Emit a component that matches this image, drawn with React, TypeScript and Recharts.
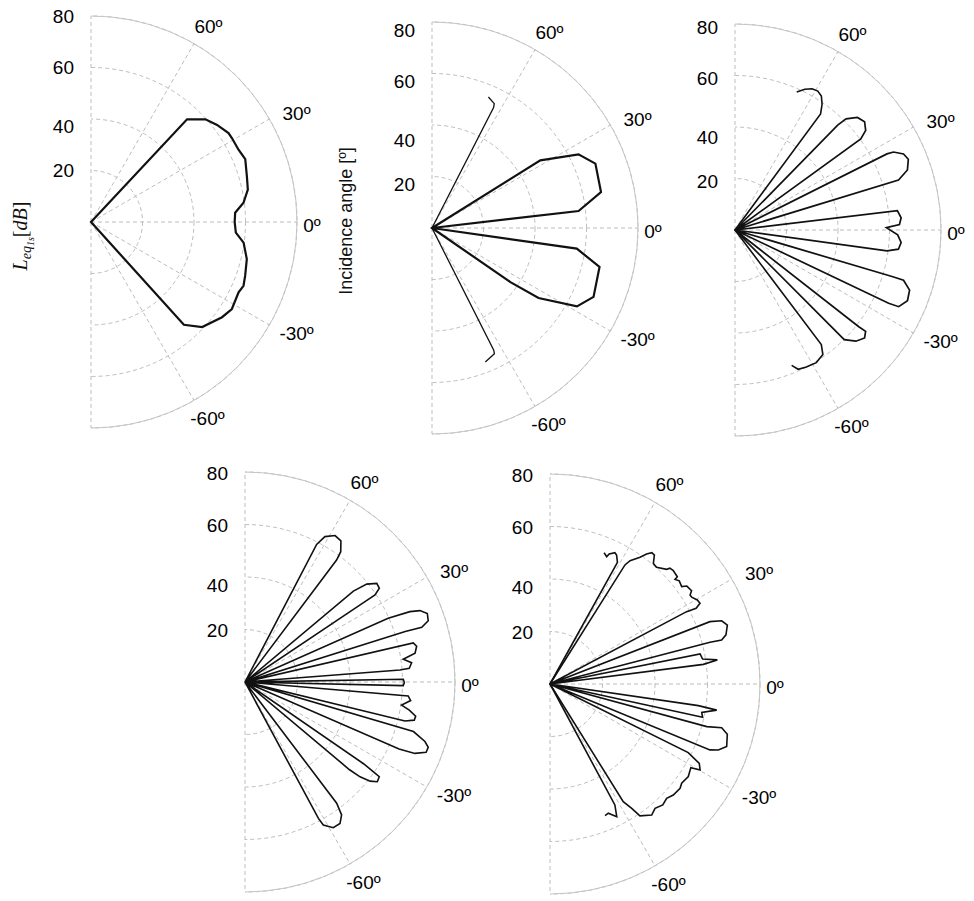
import React from 'react';
import { RadarChart, Radar, PolarGrid, PolarAngleAxis, PolarRadiusAxis } from 'recharts';

// [incidence angle in degrees, level in dB]
type Pt = [number, number];

const angleTicks = [-90, -60, -30, 0, 30, 60, 90];
const levelTicks = [20, 40, 60, 80];

// panel 1 - single wide lobe
const p1Lobes: Pt[][] = [
  [[47.5, 0], [46.9, 54.6], [41.9, 59.7], [37.6, 61.8], [32.9, 63.6], [30.8, 63.7], [26.1, 63.8], [22.2, 64.7],
   [16.4, 63.1], [11.7, 62.2], [7.2, 59.7], [3.7, 56.1], [0, 55.8], [-4.2, 56.4], [-7.7, 59.8], [-13.4, 62.2],
   [-19.2, 63.4], [-22.7, 64.2], [-25.5, 63.5], [-31.7, 64.3], [-36, 62.9], [-43.4, 59.4], [-47.9, 53.8], [-48.5, 0]],
];
const p2Lobes: Pt[][] = [
  [[33, 0], [32, 49.6], [26.7, 63.7], [21.5, 68.2], [12, 67.1], [6.6, 57.3], [6.4, 0]],
  [[-7, 0], [-8.1, 56.8], [-13.1, 66.8], [-23.1, 68.2], [-28.4, 64], [-33.3, 49.5], [-34.6, 37], [-34.8, 0]],
];
const p2Arms: Pt[][] = [
  [[62.9, 0], [62.9, 52.5], [63.4, 54], [66.7, 55.4]],
  [[-63.2, 0], [-63.2, 53.2], [-63.6, 54.5], [-68.3, 56]],
];
const p3Lobes: Pt[][] = [
  [[46, 0], [45.6, 57], [45, 61], [42.6, 64.6], [39.9, 65.6], [37.3, 63.8], [35.9, 60.3], [35.6, 0]],
  [[27, 0], [26.6, 66], [26.2, 68.6], [24.3, 71.8], [22.2, 72.7], [19.2, 70.9], [17, 66.4], [16.7, 0]],
  [[7, 0], [6.8, 63.5], [4.2, 64.7], [1.9, 63.9], [0.9, 58.8], [-1.7, 63.2], [-4.3, 64.7], [-6.7, 63.9], [-7.8, 59.6], [-8, 0]],
  [[-16.3, 0], [-16.5, 63.6], [-16.6, 68.3], [-19, 71.7], [-22.3, 72.4], [-25.1, 70.2], [-25.5, 66.1], [-25.8, 0]],
  [[-38, 0], [-38, 61], [-37.8, 64.2], [-39.8, 65.5], [-42.6, 63.8], [-45.1, 60.1], [-45.3, 0]],
];
const p3Arms: Pt[][] = [
  [[53.6, 0], [53.6, 56], [55.3, 59.4], [57.2, 61.9], [59.2, 62.8], [61.4, 62.5], [63.6, 61], [65.9, 58.7]],
  [[-53, 0], [-53, 55.7], [-54.8, 59.2], [-58.5, 60.4], [-62.5, 60], [-65.6, 59.4], [-67.3, 57]],
];
const p4Lobes: Pt[][] = [
  [[62.5, 0], [62.5, 59.1], [61.2, 63.2], [58.4, 65.5], [55.8, 65], [53.7, 61.6], [53.1, 58.1], [52.8, 0]],
  [[40, 0], [40, 53.9], [38.8, 59.5], [36.8, 62.7], [34.9, 62.4], [33.8, 59.6], [33.8, 55], [33.6, 0]],
  [[24, 0], [24, 59.7], [23.1, 68.3], [22.2, 72], [20.6, 74.2], [18.5, 73.6], [17.2, 70.5], [17.5, 64], [17.5, 0]],
  [[13.3, 0], [13.1, 65.8], [11.8, 66.8], [9.6, 65.7], [8.2, 60.9], [6.6, 63.9], [4.8, 62.8], [4.4, 59.2], [4.2, 0]],
  [[1.2, 0], [1, 60.3], [-0.2, 60.7], [-1.3, 60.3], [-1.4, 0]],
  [[-4.6, 0], [-4.9, 62.4], [-6.4, 63.5], [-8.4, 60.3], [-9.7, 63.5], [-11.3, 66.3], [-12.7, 66.1], [-13.7, 62.7], [-13.8, 0]],
  [[-16.2, 0], [-16.4, 66.9], [-18.3, 72.2], [-19.6, 74.1], [-21.2, 74], [-22.8, 70.2], [-23.5, 64], [-23.6, 0]],
  [[-34.5, 0], [-34.6, 55], [-35, 59.6], [-35.2, 62.6], [-37, 63.1], [-38.4, 60.8], [-39.5, 56.8], [-40, 52], [-40.2, 0]],
  [[-52.8, 0], [-52.9, 57.9], [-54, 62.6], [-56.1, 64.9], [-58.8, 64.9], [-61.3, 62.1], [-61.7, 59], [-62, 0]],
];
const p5Lobes: Pt[][] = [
  [[58, 0], [57.8, 53.6], [57, 56], [54.6, 59.2], [53.4, 61.7], [52.2, 63.3], [51, 63.2], [49.4, 60.5], [47.6, 60.2],
   [44.5, 62.3], [44, 63.5], [42.6, 63.8], [40.1, 63.4], [39.9, 62.1], [38.6, 63], [36.5, 62.4], [35.6, 64.1],
   [33.4, 64.6], [32.4, 63.2], [31.5, 63.3], [29.7, 64.6], [28.3, 64.9], [27.4, 62.7], [27.9, 58.9], [27.8, 0]],
  [[21.4, 0], [21.3, 65.4], [20.2, 69.7], [18.4, 71.2], [15.6, 69.6], [14.4, 67.5], [14.6, 63], [14.5, 0]],
  [[11.5, 0], [11.3, 58.3], [9.3, 58.9], [8.2, 64.4], [7.3, 58.9], [7, 0]],
  [[-6.5, 0], [-8.3, 57.1], [-8.9, 64.3], [-10.6, 58.8], [-12.3, 59.5], [-12.4, 0]],
  [[-15.2, 0], [-15.2, 61.9], [-14.3, 67.5], [-15.8, 70.2], [-19.5, 71.4], [-21.4, 68.9], [-22.4, 65.9], [-22.5, 0]],
  [[-26.3, 0], [-26.4, 58.8], [-28, 64.4], [-29.8, 65.9], [-30.7, 62.4], [-33.8, 63.4], [-37, 62.8], [-38.7, 63.5],
   [-42, 63.2], [-44.4, 62.2], [-47, 63], [-49.8, 62], [-52.2, 63.2], [-55.7, 60.8], [-56.7, 56.7], [-58.1, 52.8], [-58.2, 0]],
];
const p5Arms: Pt[][] = [
  [[61, 0], [61, 53], [62.7, 55.3], [63.7, 55.8], [65.5, 54.4], [66, 53.1], [67.6, 54.1]],
  [[-61.8, 0], [-61.8, 52.3], [-63.3, 56.6], [-65.7, 54], [-67.3, 54.4]],
];

// lobes start/end at the origin so they share one path; an open arm is walked out and back
// so the closing segment lies on top of itself
const toRows = (lobes: Pt[][], arms: Pt[][]) => {
  const rows: any[] = [];
  lobes.forEach((l) => l.forEach(([angle, v]) => rows.push({ angle, lobe: v })));
  arms.forEach((a) => {
    [...a, ...a.slice(0, -1).reverse()].forEach(([angle, v]) => rows.push({ angle, arm: v }));
  });
  return rows;
};

const panels = [
  { left: 0, top: 0, width: 330, height: 450, cx: 91, cy: 222, r: 206, rows: toRows(p1Lobes, []), lw: 2.2, aw: 1.3, labelDy: 0 },
  { left: 330, top: 0, width: 335, height: 450, cx: 102, cy: 228, r: 206, rows: toRows(p2Lobes, p2Arms), lw: 2.2, aw: 1.3, labelDy: 8 },
  { left: 665, top: 0, width: 309, height: 450, cx: 70, cy: 230, r: 206, rows: toRows(p3Lobes, p3Arms), lw: 1.7, aw: 1.6, labelDy: 3 },
  { left: 160, top: 450, width: 320, height: 451, cx: 85, cy: 232, r: 210, rows: toRows(p4Lobes, []), lw: 1.6, aw: 1.6, labelDy: 1 },
  { left: 480, top: 450, width: 320, height: 451, cx: 70, cy: 234, r: 210, rows: toRows(p5Lobes, p5Arms), lw: 1.6, aw: 1.6, labelDy: 1 },
];

const FONT = "'Liberation Sans', Arial, Helvetica, sans-serif";

// small nudges so each angle label sits where the original placed it
const angleNudge: Record<number, [number, number]> = {
  60: [4, 1], 30: [9, 5], 0: [-6, 3], [-30]: [9, -2], [-60]: [3, 0],
};

const angleTick = (props: any) => {
  const { x, y, payload } = props;
  const v = payload?.value;
  if (v === undefined || Math.abs(v) === 90) return <g />;
  const [dx, dy] = angleNudge[v] ?? [0, 0];
  return (
    <text x={x + dx} y={y + dy} textAnchor="middle" dominantBaseline="central"
      fontFamily={FONT} fontSize={19} fill="#000">{`${v}º`}</text>
  );
};

const levelTick = (labelDy: number) => (props: any) => {
  const { x, y, payload } = props;
  const v = payload?.value;
  if (!v) return <g />;
  return (
    <text x={x - 17} y={y + labelDy + (v === 40 ? 7 : 0)} textAnchor="end" dominantBaseline="central"
      fontFamily={FONT} fontSize={19} fill="#000">{v}</text>
  );
};

export default function App() {
  return (
    <div style={{ position: 'absolute', left: 0, top: 0, width: 974, height: 901, background: '#fff' }}>
      <style>{`.half-polar svg circle { clip-path: url(#right-half); }`}</style>
      {panels.map((p, i) => (
        <div key={i} className="half-polar" style={{ position: 'absolute', left: p.left, top: p.top }}>
          <RadarChart width={p.width} height={p.height} data={p.rows} cx={p.cx} cy={p.cy}
            outerRadius={p.r} innerRadius={0} startAngle={-90} endAngle={90}
            margin={{ top: 0, right: 0, bottom: 0, left: 0 }}>
            <PolarGrid gridType="circle" stroke="#bdbdbd" strokeDasharray="4 3" />
            <PolarAngleAxis dataKey="angle" type="number" domain={[-90, 90]} ticks={angleTicks} tickCount={7}
              tickLine={false} tickSize={21} axisLineType="circle" stroke="#c6c6c6" tick={angleTick} />
            <PolarRadiusAxis angle={90} type="number" domain={[0, 80]} ticks={levelTicks} tickCount={5}
              axisLine={false} tickLine={false} tick={levelTick(p.labelDy)} />
            <Radar dataKey="lobe" stroke="#111" strokeWidth={p.lw} fill="none" fillOpacity={0}
              dot={false} activeDot={false} isAnimationActive={false} />
            <Radar dataKey="arm" stroke="#111" strokeWidth={p.aw} fill="none" fillOpacity={0}
              dot={false} activeDot={false} isAnimationActive={false} />
          </RadarChart>
        </div>
      ))}
      <svg width={974} height={901} style={{ position: 'absolute', left: 0, top: 0, pointerEvents: 'none' }}>
        <defs>
          <clipPath id="right-half" clipPathUnits="objectBoundingBox">
            <rect x={0.5} y={-0.05} width={0.6} height={1.1} />
          </clipPath>
        </defs>
        <text transform="translate(27,236) rotate(-90)" textAnchor="middle" fill="#111"
          fontFamily="'Liberation Serif', 'DejaVu Serif', serif" fontStyle="italic" fontSize={20}>
          L<tspan fontSize={14} dy={4}>eq</tspan><tspan fontSize={10} dy={3}>1s</tspan>
          <tspan dy={-7} fontSize={20} fontStyle="normal">[</tspan><tspan>dB</tspan><tspan fontStyle="normal">]</tspan>
        </text>
        <text transform="translate(352,221) rotate(-90)" textAnchor="middle" fill="#111"
          fontFamily={FONT} fontSize={18}>Incidence angle [º]</text>
      </svg>
    </div>
  );
}
